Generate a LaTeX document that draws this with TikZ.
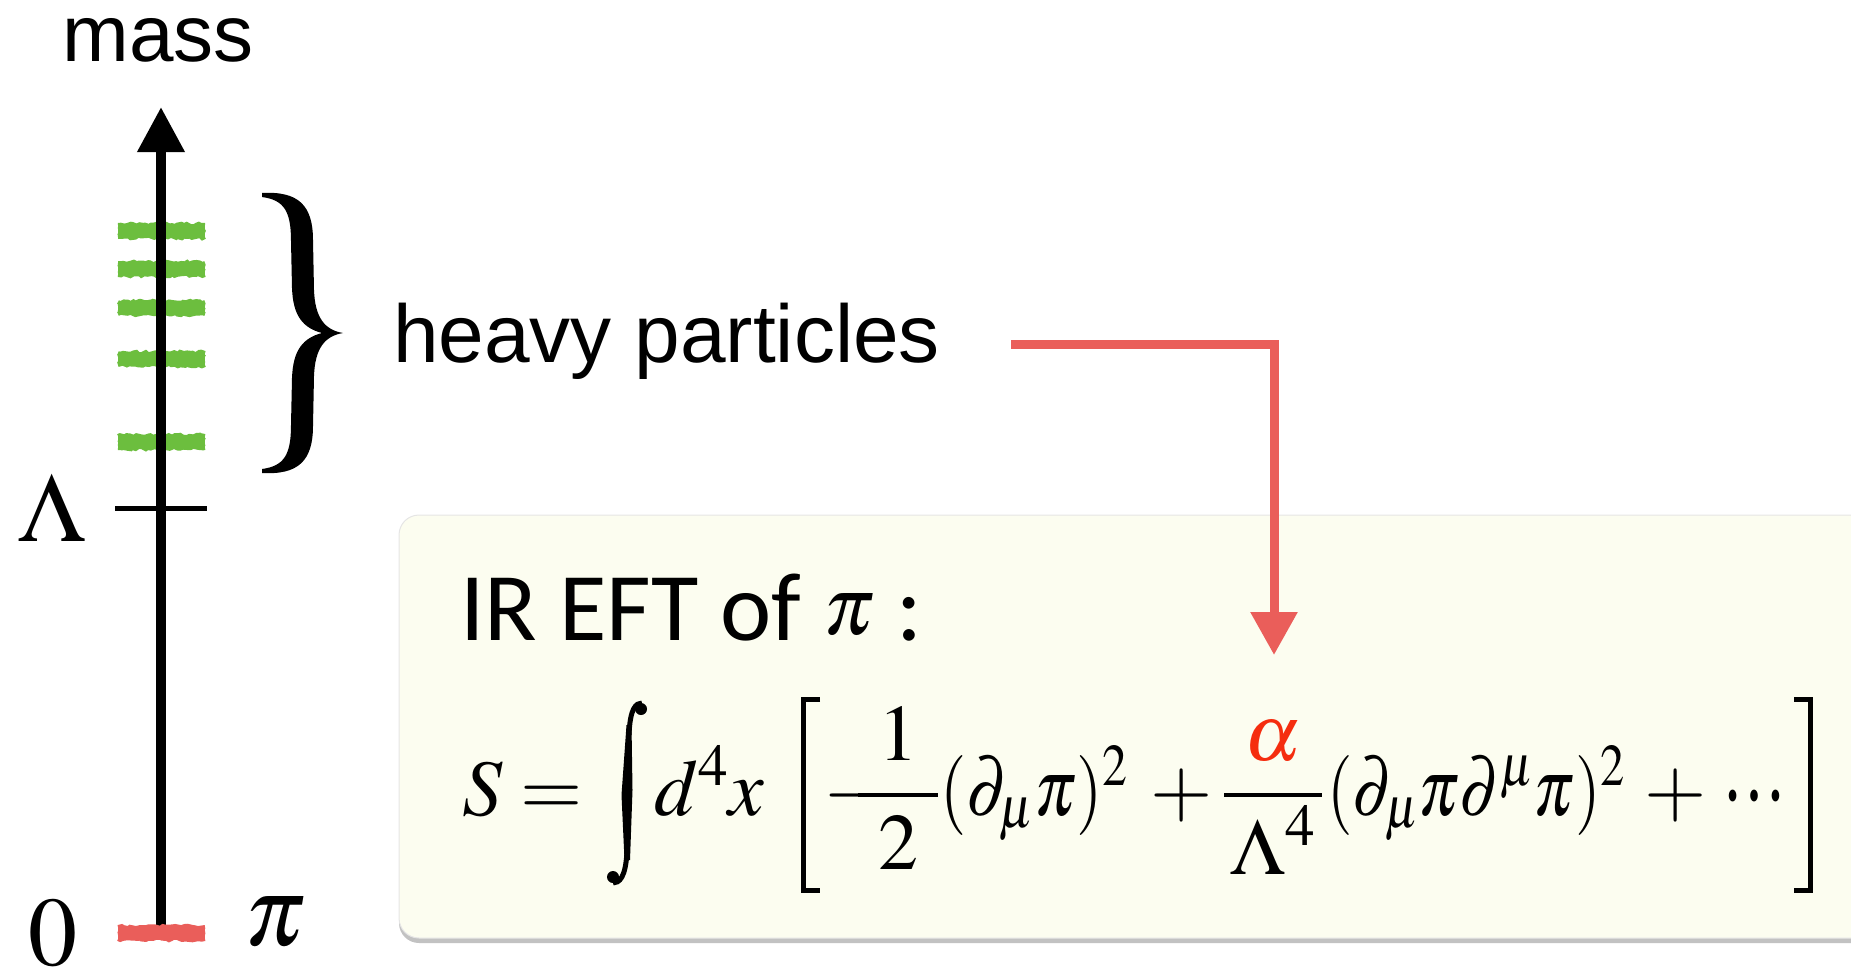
\documentclass[tikz,border=0pt]{standalone}
\usepackage[no-math]{fontspec}
\usepackage{mathptmx}
\setmainfont{Liberation Serif}
\newfontfamily\lsans{Liberation Sans}
\newfontfamily\calib{Carlito}
\usetikzlibrary{arrows.meta,shadows,decorations.pathmorphing,calc}
\definecolor{grn}{RGB}{108,190,62}
\definecolor{redl}{RGB}{234,94,90}
\definecolor{boxfill}{RGB}{252,253,240}
\definecolor{alphared}{RGB}{245,45,15}
\tikzset{
  chalk/.style={line width=4pt, decorate, decoration={random steps, segment length=3pt, amplitude=1.3pt}},
  axisline/.style={line width=10pt, -{Triangle[length=45pt,width=45pt]}},
  tickline/.style={line width=5pt},
  redarrow/.style={redl, line width=9pt, line join=miter, -{Triangle[length=43pt,width=45pt]}},
  eftbox/.style={fill=boxfill, draw=black!10, line width=1pt, rounded corners=20pt,
     drop shadow={shadow xshift=0pt, shadow yshift=-5pt, opacity=0.4, fill=black!60}},
  sanslabel/.style={font=\lsans\fontsize{80}{96}\selectfont, inner sep=0pt},
  mathlabel/.style={font=\fontsize{98}{118}\selectfont, inner sep=0pt},
  eqpart/.style={inner sep=0pt, anchor=base west, font=\fontsize{80}{96}\selectfont},
  bracketline/.style={line width=5pt, line join=miter},
}
\newcommand{\chalkdash}[3]{% color, left coord, right coord
  \fill[#1] ($(#2)+(0,-6)$) rectangle ($(#3)+(0,6)$);
  \foreach \dy in {-6,-2,2,6}{\draw[#1, chalk] ($(#2)+(0,\dy)$) -- ($(#3)+(0,\dy)$);}
}
\begin{document}
\begin{tikzpicture}[x=1pt,y=-1pt]
\pgfmathsetseed{7}
\useasboundingbox (0,0) rectangle (1851,966);
\begin{scope}
\clip (0,0) rectangle (1851,966);
% box
\path[eftbox] (399,515) rectangle (1920,938);
\node[inner sep=0pt, anchor=north west, minimum width=1452pt, minimum height=423pt] (box) at (399,515) {};
% axis labels
\node[sanslabel, anchor=base] (mass) at (158,62) {mass};
\node[mathlabel, anchor=base] (lam) at (52,541) {$\Lambda$};
\node[mathlabel, anchor=base] (zero) at (53,965) {$0$};
\node[mathlabel, anchor=base] (pi) at (275,945) {$\pi$};
% heavy levels
\foreach \yy/\nm in {231/h1,269/h2,308/h3,359/h4,442/h5}{
  \coordinate (\nm l) at (118,\yy); \coordinate (\nm r) at (205,\yy);
  \chalkdash{grn}{\nm l}{\nm r}
}
\coordinate (axisBot) at (161,927);
\coordinate (axisTop) at (161,107);
\draw[axisline] (axisBot) -- (axisTop);
\coordinate (lamL) at (115,508); \coordinate (lamR) at (207,508);
\draw[tickline] (lamL) -- (lamR);
\coordinate (piL) at (118,933); \coordinate (piR) at (205,933);
\chalkdash{redl}{piL}{piR}
% brace
\fill (262,193) .. controls (298,191) and (313,205) .. (313,240) -- (314,290)
  .. controls (315,318) and (325,330) .. (343,333)
  .. controls (325,336) and (315,348) .. (314,376) -- (313,426)
  .. controls (313,461) and (298,475) .. (262,473) -- (262,469)
  .. controls (284,466) and (291,455) .. (291,425) -- (292,378)
  .. controls (293,350) and (303,338) .. (322,333)
  .. controls (303,328) and (293,316) .. (292,288) -- (291,241)
  .. controls (291,211) and (284,200) .. (262,197) -- cycle;
\coordinate (brace) at (343,333);
% heavy particles
\node[font=\lsans\fontsize{82}{98}\selectfont, inner sep=0pt, anchor=base west] (hp) at (393,362) {heavy particles};
% IR EFT
\node[inner sep=0pt, anchor=base west] (ir) at (460,640) {\calib\fontsize{97}{116}\selectfont IR EFT of \raisebox{6pt}{\fontsize{82}{96}\selectfont$\pi$} :};
% equation: S =
\node[eqpart] (eqS) at (462,815) {$S=$};
% integral sign
\fill (626.5,725) -- (631.5,725) -- (632.5,790) -- (630,860) -- (624.5,860) -- (621.5,795) -- cycle;
\draw[line width=5pt] (629,735) .. controls (630,708) and (636,703) .. (642,703);
\fill (641,709) circle (6pt);
\draw[line width=5pt] (627,850) .. controls (626,878) and (619,883) .. (613,883);
\fill (613,877) circle (6pt);
% d^4 x
\node[eqpart] (eqD) at (654,815) {$d^4x$};
% brackets
\coordinate (lbTop) at (820,699.5); \coordinate (lbBot) at (820,890.5);
\draw[bracketline] (lbTop) -- (803.5,699.5) -- (803.5,890.5) -- (lbBot);
\coordinate (rbTop) at (1794,699.5); \coordinate (rbBot) at (1794,890.5);
\draw[bracketline] (rbTop) -- (1810.5,699.5) -- (1810.5,890.5) -- (rbBot);
% inner terms
\node[eqpart] (minus) at (823,815) {$-$};
\node[eqpart, anchor=base] (frac1) at (898,815) {$\displaystyle\frac{\hbox to 80pt{\hss$1$\hss}}{2}$};
\node[eqpart] (term1) at (940,815) {\resizebox{188pt}{\height}{$(\partial_\mu\pi)^2$}};
\node[eqpart] (plus1) at (1150,815) {$+$};
\node[eqpart, anchor=base] (frac2) at (1273,815) {$\displaystyle\frac{\textcolor{alphared}{\alpha}}{\hbox to 98pt{\hss$\Lambda^4$\hss}}$};
\node[eqpart] (term2) at (1327,815) {\resizebox{298pt}{\height}{$(\partial_\mu\pi\partial^\mu\pi)^2$}};
\node[eqpart] (plus2) at (1644,815) {$+$};
\node[inner sep=0pt, anchor=base west, font=\fontsize{100}{110}\selectfont] (dots) at (1722,815) {\raisebox{15pt}{\resizebox{64pt}{\height}{…}}};
% red connector
\coordinate (hpStart) at (1011,344);
\coordinate (alphaTop) at (1274,655);
\draw[redarrow] (hpStart) -| (alphaTop);
\end{scope}
\end{tikzpicture}
\end{document}
